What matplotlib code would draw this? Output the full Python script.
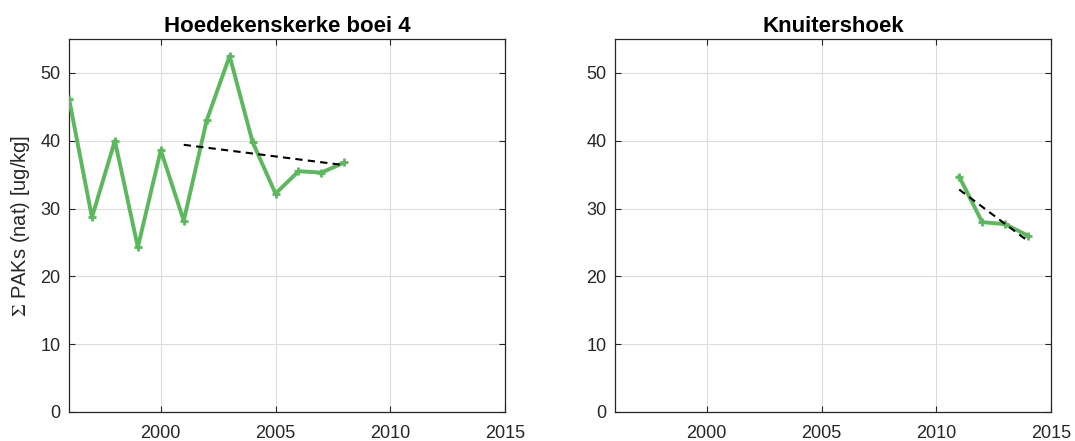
import matplotlib
matplotlib.use('Agg')
import matplotlib.pyplot as plt
import numpy as np

plt.rcParams['font.family'] = ['Liberation Sans', 'DejaVu Sans']
plt.rcParams['mathtext.fontset'] = 'stix'

# Hoedekenskerke boei 4
jaar_h = [1996, 1997, 1998, 1999, 2000, 2001, 2002, 2003, 2004, 2005, 2006, 2007, 2008]
pak_h = [46.2, 28.7, 40.0, 24.3, 38.6, 28.2, 43.0, 52.5, 39.8, 32.2, 35.5, 35.3, 36.8]
trend_h_x = [2001, 2008]
trend_h_y = [39.4, 36.4]

# Knuitershoek
jaar_k = [2011, 2012, 2013, 2014]
pak_k = [34.7, 28.0, 27.7, 26.0]
trend_k_x = [2011, 2014]
trend_k_y = [32.8, 25.2]

titels = ['Hoedekenskerke boei 4', 'Knuitershoek']
xticks = [2000, 2005, 2010, 2015]
yticks = [0, 10, 20, 30, 40, 50]

groen = '#5cb85c'
grijs = '#262626'

fig = plt.figure(figsize=(10.75, 4.41), dpi=100)
ax1 = fig.add_axes([69/1075, 29/441, 436/1075, 373/441])
ax2 = fig.add_axes([615/1075, 29/441, 436/1075, 373/441])

data = [(jaar_h, pak_h, trend_h_x, trend_h_y), (jaar_k, pak_k, trend_k_x, trend_k_y)]

for ax, titel, (x, y, tx, ty) in zip([ax1, ax2], titels, data):
    ax.plot(x, y, color=groen, lw=2.8, marker='+', ms=6, mew=2, zorder=3)
    ax.plot(tx, ty, color='black', lw=1.5, ls=(0, (3.5, 2.5)), zorder=4)
    ax.set_xlim(1996, 2015)
    ax.set_ylim(0, 55)
    ax.set_xticks(xticks)
    ax.set_yticks(yticks)
    ax.grid(True, color='#dcdcdc', lw=0.8)
    ax.set_axisbelow(True)
    ax.tick_params(direction='in', top=True, right=True, length=4, width=0.8,
                   colors=grijs, labelsize=13, pad=6)
    ax.tick_params(axis='x', pad=9)
    for s in ax.spines.values():
        s.set_color(grijs)
        s.set_linewidth(0.9)
    ax.set_title(titel, fontsize=16, fontweight='bold', pad=5)

ax1.set_ylabel('$\\Sigma$ PAKs (nat) [ug/kg]', fontsize=14.5, color=grijs, labelpad=6)

fig.savefig('out.png', dpi=100)
